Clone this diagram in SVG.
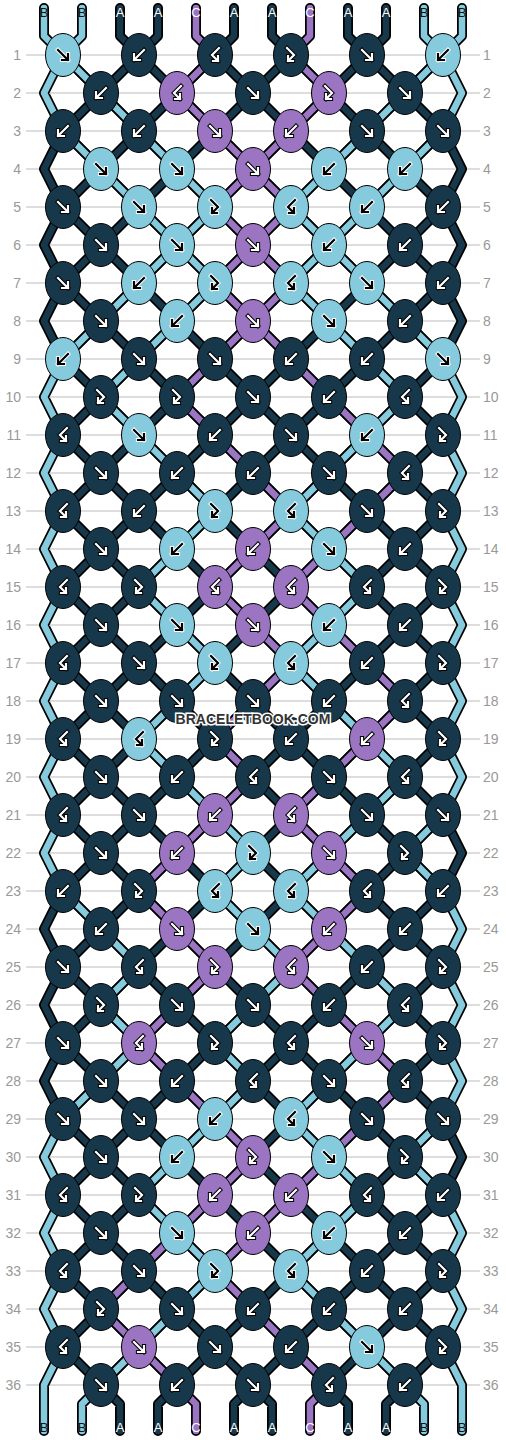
<svg xmlns="http://www.w3.org/2000/svg" xmlns:xlink="http://www.w3.org/1999/xlink" width="506" height="1440" viewBox="0 0 506 1440">
<style>
.o{fill:none;stroke:#000;stroke-width:10;stroke-linecap:round;stroke-linejoin:round}
.cA,.cB,.cC{fill:none;stroke-width:6.5;stroke-linecap:round;stroke-linejoin:round}
.cA{stroke:#17384a}.cB{stroke:#86cbdd}.cC{stroke:#9b74c2}
.nA{fill:#17384a}.nB{fill:#86cbdd}.nC{fill:#9b74c2}
.go,.gi,.ko,.ki{fill:none;stroke-linecap:square;stroke-linejoin:miter}
.go{stroke:#000;stroke-width:4.2}.gi{stroke:#fff;stroke-width:2.2}
.ko{stroke:#fff;stroke-width:4.2}.ki{stroke:#000;stroke-width:2.2}
.rl{fill:none;stroke:#bbb;stroke-width:1}
.rn{font-family:"Liberation Sans",Arial,sans-serif;font-size:14px;fill:#999}
.lb{font-family:"Liberation Sans",Arial,sans-serif;font-size:13px;text-anchor:middle}
.wm{font-family:"Liberation Sans",Arial,sans-serif;font-weight:bold;font-size:14px;fill:#333;stroke:#fff;stroke-width:3;paint-order:stroke;text-anchor:middle}
</style>
<defs>
<clipPath id="cl"><rect x="0" y="55" width="506" height="1330"/></clipPath>
<ellipse id="E" rx="17.5" ry="21.5" stroke="#000" stroke-width="1"/>
<path id="gf" d="M-5 -5L5 5M5 -1V5H-1"/>
<path id="gb" d="M5 -5L-5 5M-5 -1V5H1"/>
<path id="gfb" d="M-4 -7L3 0L-3 6M-3 1V6H2"/>
<path id="gbf" d="M4 -7L-3 0L3 6M3 1V6H-2"/>
<g id="fW"><use href="#gf" class="go"/><use href="#gf" class="gi"/></g>
<g id="bW"><use href="#gb" class="go"/><use href="#gb" class="gi"/></g>
<g id="fbW"><use href="#gfb" class="go"/><use href="#gfb" class="gi"/></g>
<g id="bfW"><use href="#gbf" class="go"/><use href="#gbf" class="gi"/></g>
<g id="fK"><use href="#gf" class="ko"/><use href="#gf" class="ki"/></g>
<g id="bK"><use href="#gb" class="ko"/><use href="#gb" class="ki"/></g>
<g id="fbK"><use href="#gfb" class="ko"/><use href="#gfb" class="ki"/></g>
<g id="bfK"><use href="#gbf" class="ko"/><use href="#gbf" class="ki"/></g>
<path id="lat" d="M63 -249l380 380M63 -173l380 380M63 -97l380 380M63 -21l380 380M63 55l380 380M63 131l380 380M63 207l380 380M63 283l380 380M63 359l380 380M63 435l380 380M63 511l380 380M63 587l380 380M63 663l380 380M63 739l380 380M63 815l380 380M63 891l380 380M63 967l380 380M63 1043l380 380M63 1119l380 380M63 1195l380 380M63 1271l380 380M63 1347l380 380M443 -249l-380 380M443 -173l-380 380M443 -97l-380 380M443 -21l-380 380M443 55l-380 380M443 131l-380 380M443 207l-380 380M443 283l-380 380M443 359l-380 380M443 435l-380 380M443 511l-380 380M443 587l-380 380M443 663l-380 380M443 739l-380 380M443 815l-380 380M443 891l-380 380M443 967l-380 380M443 1043l-380 380M443 1119l-380 380M443 1195l-380 380M443 1271l-380 380M443 1347l-380 380"/>
<path id="sa" d="M63 131L44 169L63 207L44 245L63 283L44 321L63 359M63 891L44 929L63 967L44 1005L63 1043L44 1081L63 1119M443 131L462 169L443 207L462 245L443 283L462 321L443 359M443 815L462 853L443 891M443 1119L462 1157L443 1195M120 8V36L139 55M158 8V36L139 55M234 8V36L215 55M272 8V36L291 55M348 8V36L367 55M386 8V36L367 55M101 1385L120 1404V1431M177 1385L158 1404V1431M253 1385L234 1404V1431M253 1385L272 1404V1431M329 1385L348 1404V1431M405 1385L386 1404V1431"/>
<path id="sb" d="M63 55L44 93L63 131M63 359L44 397L63 435L44 473L63 511L44 549L63 587L44 625L63 663L44 701L63 739L44 777L63 815L44 853L63 891M63 1119L44 1157L63 1195L44 1233L63 1271L44 1309L63 1347L44 1385V1431M443 55L462 93L443 131M443 359L462 397L443 435L462 473L443 511L462 549L443 587L462 625L443 663L462 701L443 739L462 777L443 815M443 891L462 929L443 967L462 1005L443 1043L462 1081L443 1119M443 1195L462 1233L443 1271L462 1309L443 1347L462 1385V1431M44 8V36L63 55M82 8V36L63 55M424 8V36L443 55M462 8V36L443 55M101 1385L82 1404V1431M405 1385L424 1404V1431
M63 55l38 38M443 55l-38 38M101 93l38 38M405 93l-38 38M63 131l38 38M139 131l38 38M367 131l-38 38M443 131l-38 38M101 169l38 38M177 169l38 38M329 169l-38 38M405 169l-38 38M139 207l38 38M215 207l-38 38M291 207l38 38M367 207l-38 38M177 245l-38 38M177 245l38 38M329 245l-38 38M329 245l38 38M139 283l-38 38M215 283l-38 38M291 283l38 38M367 283l38 38M101 321l-38 38M177 321l-38 38M329 321l38 38M405 321l38 38M139 359l-38 38M367 359l38 38M101 397l38 38M405 397l-38 38M139 435l38 38M367 435l-38 38M177 473l38 38M329 473l-38 38M215 511l-38 38M291 511l38 38M177 549l-38 38M329 549l38 38M139 587l38 38M367 587l-38 38M177 625l38 38M329 625l-38 38M215 663l-38 38M291 663l38 38M177 701l-38 38M329 701l38 38M139 739l38 38M367 739l38 38M177 777l38 38M405 777l-38 38M215 815l38 38M367 815l-38 38M443 815l-38 38M253 853l-38 38M329 853l-38 38M405 853l38 38M63 891l38 38M215 891l38 38M291 891l38 38M101 929l38 38M253 929l38 38M329 929l38 38M139 967l-38 38M291 967l-38 38M367 967l38 38M101 1005l38 38M253 1005l-38 38M405 1005l-38 38M139 1043l-38 38M215 1043l38 38M367 1043l-38 38M101 1081l-38 38M253 1081l-38 38M329 1081l-38 38M215 1119l-38 38M291 1119l38 38M443 1119l-38 38M177 1157l-38 38M329 1157l38 38M405 1157l38 38M139 1195l38 38M367 1195l-38 38M177 1233l38 38M329 1233l-38 38M215 1271l-38 38M291 1271l38 38M177 1309l-38 38M329 1309l38 38M139 1347l-38 38M367 1347l38 38"/>
<path id="sc" d="M196 8V36L215 55L177 93L215 131L253 169L215 207L253 245L215 283L253 321L215 359L177 397L215 435L253 473L291 511L253 549L215 587L253 625L291 663L253 701L215 739L253 777L215 815L177 853L139 891L177 929L215 967L177 1005L139 1043L177 1081L215 1119L253 1157L215 1195L177 1233L139 1271L101 1309L139 1347L177 1385L196 1404V1431M310 8V36L291 55L329 93L291 131L253 169L291 207L253 245L291 283L253 321L291 359L329 397L367 435L405 473L367 511L329 549L291 587L329 625L367 663L405 701L367 739L329 777L291 815L329 853L367 891L329 929L291 967L329 1005L367 1043L405 1081L367 1119L329 1157L291 1195L253 1233L215 1271L253 1309L291 1347L329 1385L310 1404V1431"/>
</defs>
<rect width="506" height="1440" fill="#fff"/>
<g id="rows">
<path class="rl" d="M26 55H480M26 93H480M26 131H480M26 169H480M26 207H480M26 245H480M26 283H480M26 321H480M26 359H480M26 397H480M26 435H480M26 473H480M26 511H480M26 549H480M26 587H480M26 625H480M26 663H480M26 701H480M26 739H480M26 777H480M26 815H480M26 853H480M26 891H480M26 929H480M26 967H480M26 1005H480M26 1043H480M26 1081H480M26 1119H480M26 1157H480M26 1195H480M26 1233H480M26 1271H480M26 1309H480M26 1347H480M26 1385H480"/>
<g class="rn" text-anchor="end">
<text x="21" y="60">1</text><text x="21" y="98">2</text><text x="21" y="136">3</text><text x="21" y="174">4</text><text x="21" y="212">5</text><text x="21" y="250">6</text><text x="21" y="288">7</text><text x="21" y="326">8</text><text x="21" y="364">9</text><text x="21" y="402">10</text><text x="21" y="440">11</text><text x="21" y="478">12</text><text x="21" y="516">13</text><text x="21" y="554">14</text><text x="21" y="592">15</text><text x="21" y="630">16</text><text x="21" y="668">17</text><text x="21" y="706">18</text><text x="21" y="744">19</text><text x="21" y="782">20</text><text x="21" y="820">21</text><text x="21" y="858">22</text><text x="21" y="896">23</text><text x="21" y="934">24</text><text x="21" y="972">25</text><text x="21" y="1010">26</text><text x="21" y="1048">27</text><text x="21" y="1086">28</text><text x="21" y="1124">29</text><text x="21" y="1162">30</text><text x="21" y="1200">31</text><text x="21" y="1238">32</text><text x="21" y="1276">33</text><text x="21" y="1314">34</text><text x="21" y="1352">35</text><text x="21" y="1390">36</text>
</g>
<g class="rn">
<text x="483" y="60">1</text><text x="483" y="98">2</text><text x="483" y="136">3</text><text x="483" y="174">4</text><text x="483" y="212">5</text><text x="483" y="250">6</text><text x="483" y="288">7</text><text x="483" y="326">8</text><text x="483" y="364">9</text><text x="483" y="402">10</text><text x="483" y="440">11</text><text x="483" y="478">12</text><text x="483" y="516">13</text><text x="483" y="554">14</text><text x="483" y="592">15</text><text x="483" y="630">16</text><text x="483" y="668">17</text><text x="483" y="706">18</text><text x="483" y="744">19</text><text x="483" y="782">20</text><text x="483" y="820">21</text><text x="483" y="858">22</text><text x="483" y="896">23</text><text x="483" y="934">24</text><text x="483" y="972">25</text><text x="483" y="1010">26</text><text x="483" y="1048">27</text><text x="483" y="1086">28</text><text x="483" y="1124">29</text><text x="483" y="1162">30</text><text x="483" y="1200">31</text><text x="483" y="1238">32</text><text x="483" y="1276">33</text><text x="483" y="1314">34</text><text x="483" y="1352">35</text><text x="483" y="1390">36</text>
</g>
</g>
<g id="connectors">
<use href="#lat" class="o" clip-path="url(#cl)"/>
<use href="#sa" class="o"/><use href="#sb" class="o"/><use href="#sc" class="o"/>
<use href="#lat" class="cA" clip-path="url(#cl)"/>
<use href="#sa" class="cA"/><use href="#sb" class="cB"/><use href="#sc" class="cC"/>
</g>
<g id="labels" class="lb">
<g fill="#111"><text x="44" y="17">B</text><text x="82" y="17">B</text><text x="424" y="17">B</text><text x="462" y="17">B</text><text x="44" y="1432">B</text><text x="82" y="1432">B</text><text x="424" y="1432">B</text><text x="462" y="1432">B</text></g>
<g fill="#fff"><text x="120" y="17">A</text><text x="158" y="17">A</text><text x="196" y="17">C</text><text x="234" y="17">A</text><text x="272" y="17">A</text><text x="310" y="17">C</text><text x="348" y="17">A</text><text x="386" y="17">A</text><text x="120" y="1432">A</text><text x="158" y="1432">A</text><text x="196" y="1432">C</text><text x="234" y="1432">A</text><text x="272" y="1432">A</text><text x="310" y="1432">C</text><text x="348" y="1432">A</text><text x="386" y="1432">A</text></g>
</g>
<g id="knots">
<g id="k1-1" class="nB" transform="translate(63 55)"><use href="#E"/><use href="#fK"/></g>
<g id="k1-2" class="nA" transform="translate(139 55)"><use href="#E"/><use href="#bW"/></g>
<g id="k1-3" class="nA" transform="translate(215 55)"><use href="#E"/><use href="#bfW"/></g>
<g id="k1-4" class="nA" transform="translate(291 55)"><use href="#E"/><use href="#fbW"/></g>
<g id="k1-5" class="nA" transform="translate(367 55)"><use href="#E"/><use href="#fW"/></g>
<g id="k1-6" class="nB" transform="translate(443 55)"><use href="#E"/><use href="#bK"/></g>
<g id="k2-1" class="nA" transform="translate(101 93)"><use href="#E"/><use href="#bW"/></g>
<g id="k2-2" class="nC" transform="translate(177 93)"><use href="#E"/><use href="#bfW"/></g>
<g id="k2-3" class="nA" transform="translate(253 93)"><use href="#E"/><use href="#fW"/></g>
<g id="k2-4" class="nC" transform="translate(329 93)"><use href="#E"/><use href="#fbW"/></g>
<g id="k2-5" class="nA" transform="translate(405 93)"><use href="#E"/><use href="#fW"/></g>
<g id="k3-1" class="nA" transform="translate(63 131)"><use href="#E"/><use href="#bW"/></g>
<g id="k3-2" class="nA" transform="translate(139 131)"><use href="#E"/><use href="#bW"/></g>
<g id="k3-3" class="nC" transform="translate(215 131)"><use href="#E"/><use href="#fW"/></g>
<g id="k3-4" class="nC" transform="translate(291 131)"><use href="#E"/><use href="#bW"/></g>
<g id="k3-5" class="nA" transform="translate(367 131)"><use href="#E"/><use href="#fW"/></g>
<g id="k3-6" class="nA" transform="translate(443 131)"><use href="#E"/><use href="#fW"/></g>
<g id="k4-1" class="nB" transform="translate(101 169)"><use href="#E"/><use href="#fK"/></g>
<g id="k4-2" class="nB" transform="translate(177 169)"><use href="#E"/><use href="#fK"/></g>
<g id="k4-3" class="nC" transform="translate(253 169)"><use href="#E"/><use href="#fW"/></g>
<g id="k4-4" class="nB" transform="translate(329 169)"><use href="#E"/><use href="#bK"/></g>
<g id="k4-5" class="nB" transform="translate(405 169)"><use href="#E"/><use href="#bK"/></g>
<g id="k5-1" class="nA" transform="translate(63 207)"><use href="#E"/><use href="#fW"/></g>
<g id="k5-2" class="nB" transform="translate(139 207)"><use href="#E"/><use href="#fK"/></g>
<g id="k5-3" class="nB" transform="translate(215 207)"><use href="#E"/><use href="#fbK"/></g>
<g id="k5-4" class="nB" transform="translate(291 207)"><use href="#E"/><use href="#bfK"/></g>
<g id="k5-5" class="nB" transform="translate(367 207)"><use href="#E"/><use href="#bK"/></g>
<g id="k5-6" class="nA" transform="translate(443 207)"><use href="#E"/><use href="#bW"/></g>
<g id="k6-1" class="nA" transform="translate(101 245)"><use href="#E"/><use href="#fW"/></g>
<g id="k6-2" class="nB" transform="translate(177 245)"><use href="#E"/><use href="#fK"/></g>
<g id="k6-3" class="nC" transform="translate(253 245)"><use href="#E"/><use href="#fW"/></g>
<g id="k6-4" class="nB" transform="translate(329 245)"><use href="#E"/><use href="#bK"/></g>
<g id="k6-5" class="nA" transform="translate(405 245)"><use href="#E"/><use href="#bW"/></g>
<g id="k7-1" class="nA" transform="translate(63 283)"><use href="#E"/><use href="#fW"/></g>
<g id="k7-2" class="nB" transform="translate(139 283)"><use href="#E"/><use href="#bK"/></g>
<g id="k7-3" class="nB" transform="translate(215 283)"><use href="#E"/><use href="#fbK"/></g>
<g id="k7-4" class="nB" transform="translate(291 283)"><use href="#E"/><use href="#bfK"/></g>
<g id="k7-5" class="nB" transform="translate(367 283)"><use href="#E"/><use href="#fK"/></g>
<g id="k7-6" class="nA" transform="translate(443 283)"><use href="#E"/><use href="#bW"/></g>
<g id="k8-1" class="nA" transform="translate(101 321)"><use href="#E"/><use href="#fW"/></g>
<g id="k8-2" class="nB" transform="translate(177 321)"><use href="#E"/><use href="#bK"/></g>
<g id="k8-3" class="nC" transform="translate(253 321)"><use href="#E"/><use href="#fW"/></g>
<g id="k8-4" class="nB" transform="translate(329 321)"><use href="#E"/><use href="#fK"/></g>
<g id="k8-5" class="nA" transform="translate(405 321)"><use href="#E"/><use href="#bW"/></g>
<g id="k9-1" class="nB" transform="translate(63 359)"><use href="#E"/><use href="#bK"/></g>
<g id="k9-2" class="nA" transform="translate(139 359)"><use href="#E"/><use href="#fW"/></g>
<g id="k9-3" class="nA" transform="translate(215 359)"><use href="#E"/><use href="#fW"/></g>
<g id="k9-4" class="nA" transform="translate(291 359)"><use href="#E"/><use href="#bW"/></g>
<g id="k9-5" class="nA" transform="translate(367 359)"><use href="#E"/><use href="#bW"/></g>
<g id="k9-6" class="nB" transform="translate(443 359)"><use href="#E"/><use href="#fK"/></g>
<g id="k10-1" class="nA" transform="translate(101 397)"><use href="#E"/><use href="#fbW"/></g>
<g id="k10-2" class="nA" transform="translate(177 397)"><use href="#E"/><use href="#fbW"/></g>
<g id="k10-3" class="nA" transform="translate(253 397)"><use href="#E"/><use href="#fW"/></g>
<g id="k10-4" class="nA" transform="translate(329 397)"><use href="#E"/><use href="#bW"/></g>
<g id="k10-5" class="nA" transform="translate(405 397)"><use href="#E"/><use href="#bfW"/></g>
<g id="k11-1" class="nA" transform="translate(63 435)"><use href="#E"/><use href="#bfW"/></g>
<g id="k11-2" class="nB" transform="translate(139 435)"><use href="#E"/><use href="#fK"/></g>
<g id="k11-3" class="nA" transform="translate(215 435)"><use href="#E"/><use href="#bW"/></g>
<g id="k11-4" class="nA" transform="translate(291 435)"><use href="#E"/><use href="#fW"/></g>
<g id="k11-5" class="nB" transform="translate(367 435)"><use href="#E"/><use href="#bK"/></g>
<g id="k11-6" class="nA" transform="translate(443 435)"><use href="#E"/><use href="#fbW"/></g>
<g id="k12-1" class="nA" transform="translate(101 473)"><use href="#E"/><use href="#fW"/></g>
<g id="k12-2" class="nA" transform="translate(177 473)"><use href="#E"/><use href="#bW"/></g>
<g id="k12-3" class="nA" transform="translate(253 473)"><use href="#E"/><use href="#bW"/></g>
<g id="k12-4" class="nA" transform="translate(329 473)"><use href="#E"/><use href="#fW"/></g>
<g id="k12-5" class="nA" transform="translate(405 473)"><use href="#E"/><use href="#bfW"/></g>
<g id="k13-1" class="nA" transform="translate(63 511)"><use href="#E"/><use href="#bfW"/></g>
<g id="k13-2" class="nA" transform="translate(139 511)"><use href="#E"/><use href="#bW"/></g>
<g id="k13-3" class="nB" transform="translate(215 511)"><use href="#E"/><use href="#fbK"/></g>
<g id="k13-4" class="nB" transform="translate(291 511)"><use href="#E"/><use href="#bfK"/></g>
<g id="k13-5" class="nA" transform="translate(367 511)"><use href="#E"/><use href="#fW"/></g>
<g id="k13-6" class="nA" transform="translate(443 511)"><use href="#E"/><use href="#fbW"/></g>
<g id="k14-1" class="nA" transform="translate(101 549)"><use href="#E"/><use href="#fW"/></g>
<g id="k14-2" class="nB" transform="translate(177 549)"><use href="#E"/><use href="#bK"/></g>
<g id="k14-3" class="nC" transform="translate(253 549)"><use href="#E"/><use href="#bW"/></g>
<g id="k14-4" class="nB" transform="translate(329 549)"><use href="#E"/><use href="#fK"/></g>
<g id="k14-5" class="nA" transform="translate(405 549)"><use href="#E"/><use href="#bW"/></g>
<g id="k15-1" class="nA" transform="translate(63 587)"><use href="#E"/><use href="#bfW"/></g>
<g id="k15-2" class="nA" transform="translate(139 587)"><use href="#E"/><use href="#fbW"/></g>
<g id="k15-3" class="nC" transform="translate(215 587)"><use href="#E"/><use href="#bfW"/></g>
<g id="k15-4" class="nC" transform="translate(291 587)"><use href="#E"/><use href="#bfW"/></g>
<g id="k15-5" class="nA" transform="translate(367 587)"><use href="#E"/><use href="#bfW"/></g>
<g id="k15-6" class="nA" transform="translate(443 587)"><use href="#E"/><use href="#fbW"/></g>
<g id="k16-1" class="nA" transform="translate(101 625)"><use href="#E"/><use href="#fW"/></g>
<g id="k16-2" class="nB" transform="translate(177 625)"><use href="#E"/><use href="#fK"/></g>
<g id="k16-3" class="nC" transform="translate(253 625)"><use href="#E"/><use href="#fW"/></g>
<g id="k16-4" class="nB" transform="translate(329 625)"><use href="#E"/><use href="#bK"/></g>
<g id="k16-5" class="nA" transform="translate(405 625)"><use href="#E"/><use href="#bW"/></g>
<g id="k17-1" class="nA" transform="translate(63 663)"><use href="#E"/><use href="#bfW"/></g>
<g id="k17-2" class="nA" transform="translate(139 663)"><use href="#E"/><use href="#fW"/></g>
<g id="k17-3" class="nB" transform="translate(215 663)"><use href="#E"/><use href="#fbK"/></g>
<g id="k17-4" class="nB" transform="translate(291 663)"><use href="#E"/><use href="#bfK"/></g>
<g id="k17-5" class="nA" transform="translate(367 663)"><use href="#E"/><use href="#bW"/></g>
<g id="k17-6" class="nA" transform="translate(443 663)"><use href="#E"/><use href="#fbW"/></g>
<g id="k18-1" class="nA" transform="translate(101 701)"><use href="#E"/><use href="#fW"/></g>
<g id="k18-2" class="nA" transform="translate(177 701)"><use href="#E"/><use href="#fW"/></g>
<g id="k18-3" class="nA" transform="translate(253 701)"><use href="#E"/><use href="#fW"/></g>
<g id="k18-4" class="nA" transform="translate(329 701)"><use href="#E"/><use href="#bW"/></g>
<g id="k18-5" class="nA" transform="translate(405 701)"><use href="#E"/><use href="#bfW"/></g>
<g id="k19-1" class="nA" transform="translate(63 739)"><use href="#E"/><use href="#bfW"/></g>
<g id="k19-2" class="nB" transform="translate(139 739)"><use href="#E"/><use href="#bfK"/></g>
<g id="k19-3" class="nA" transform="translate(215 739)"><use href="#E"/><use href="#fbW"/></g>
<g id="k19-4" class="nA" transform="translate(291 739)"><use href="#E"/><use href="#bW"/></g>
<g id="k19-5" class="nC" transform="translate(367 739)"><use href="#E"/><use href="#bW"/></g>
<g id="k19-6" class="nA" transform="translate(443 739)"><use href="#E"/><use href="#fbW"/></g>
<g id="k20-1" class="nA" transform="translate(101 777)"><use href="#E"/><use href="#fW"/></g>
<g id="k20-2" class="nA" transform="translate(177 777)"><use href="#E"/><use href="#bW"/></g>
<g id="k20-3" class="nA" transform="translate(253 777)"><use href="#E"/><use href="#bfW"/></g>
<g id="k20-4" class="nA" transform="translate(329 777)"><use href="#E"/><use href="#fW"/></g>
<g id="k20-5" class="nA" transform="translate(405 777)"><use href="#E"/><use href="#bfW"/></g>
<g id="k21-1" class="nA" transform="translate(63 815)"><use href="#E"/><use href="#bfW"/></g>
<g id="k21-2" class="nA" transform="translate(139 815)"><use href="#E"/><use href="#fW"/></g>
<g id="k21-3" class="nC" transform="translate(215 815)"><use href="#E"/><use href="#bW"/></g>
<g id="k21-4" class="nC" transform="translate(291 815)"><use href="#E"/><use href="#bfW"/></g>
<g id="k21-5" class="nA" transform="translate(367 815)"><use href="#E"/><use href="#fW"/></g>
<g id="k21-6" class="nA" transform="translate(443 815)"><use href="#E"/><use href="#fW"/></g>
<g id="k22-1" class="nA" transform="translate(101 853)"><use href="#E"/><use href="#fW"/></g>
<g id="k22-2" class="nC" transform="translate(177 853)"><use href="#E"/><use href="#bW"/></g>
<g id="k22-3" class="nB" transform="translate(253 853)"><use href="#E"/><use href="#fbK"/></g>
<g id="k22-4" class="nC" transform="translate(329 853)"><use href="#E"/><use href="#fW"/></g>
<g id="k22-5" class="nA" transform="translate(405 853)"><use href="#E"/><use href="#fbW"/></g>
<g id="k23-1" class="nA" transform="translate(63 891)"><use href="#E"/><use href="#bW"/></g>
<g id="k23-2" class="nA" transform="translate(139 891)"><use href="#E"/><use href="#fbW"/></g>
<g id="k23-3" class="nB" transform="translate(215 891)"><use href="#E"/><use href="#bfK"/></g>
<g id="k23-4" class="nB" transform="translate(291 891)"><use href="#E"/><use href="#bfK"/></g>
<g id="k23-5" class="nA" transform="translate(367 891)"><use href="#E"/><use href="#bfW"/></g>
<g id="k23-6" class="nA" transform="translate(443 891)"><use href="#E"/><use href="#bW"/></g>
<g id="k24-1" class="nA" transform="translate(101 929)"><use href="#E"/><use href="#bW"/></g>
<g id="k24-2" class="nC" transform="translate(177 929)"><use href="#E"/><use href="#fW"/></g>
<g id="k24-3" class="nB" transform="translate(253 929)"><use href="#E"/><use href="#fK"/></g>
<g id="k24-4" class="nC" transform="translate(329 929)"><use href="#E"/><use href="#bW"/></g>
<g id="k24-5" class="nA" transform="translate(405 929)"><use href="#E"/><use href="#bW"/></g>
<g id="k25-1" class="nA" transform="translate(63 967)"><use href="#E"/><use href="#fW"/></g>
<g id="k25-2" class="nA" transform="translate(139 967)"><use href="#E"/><use href="#bfW"/></g>
<g id="k25-3" class="nC" transform="translate(215 967)"><use href="#E"/><use href="#fbW"/></g>
<g id="k25-4" class="nC" transform="translate(291 967)"><use href="#E"/><use href="#bfW"/></g>
<g id="k25-5" class="nA" transform="translate(367 967)"><use href="#E"/><use href="#bW"/></g>
<g id="k25-6" class="nA" transform="translate(443 967)"><use href="#E"/><use href="#fbW"/></g>
<g id="k26-1" class="nA" transform="translate(101 1005)"><use href="#E"/><use href="#fbW"/></g>
<g id="k26-2" class="nA" transform="translate(177 1005)"><use href="#E"/><use href="#fW"/></g>
<g id="k26-3" class="nA" transform="translate(253 1005)"><use href="#E"/><use href="#fW"/></g>
<g id="k26-4" class="nA" transform="translate(329 1005)"><use href="#E"/><use href="#bW"/></g>
<g id="k26-5" class="nA" transform="translate(405 1005)"><use href="#E"/><use href="#bfW"/></g>
<g id="k27-1" class="nA" transform="translate(63 1043)"><use href="#E"/><use href="#fW"/></g>
<g id="k27-2" class="nC" transform="translate(139 1043)"><use href="#E"/><use href="#bfW"/></g>
<g id="k27-3" class="nA" transform="translate(215 1043)"><use href="#E"/><use href="#fbW"/></g>
<g id="k27-4" class="nA" transform="translate(291 1043)"><use href="#E"/><use href="#bfW"/></g>
<g id="k27-5" class="nC" transform="translate(367 1043)"><use href="#E"/><use href="#fW"/></g>
<g id="k27-6" class="nA" transform="translate(443 1043)"><use href="#E"/><use href="#fbW"/></g>
<g id="k28-1" class="nA" transform="translate(101 1081)"><use href="#E"/><use href="#fW"/></g>
<g id="k28-2" class="nA" transform="translate(177 1081)"><use href="#E"/><use href="#bW"/></g>
<g id="k28-3" class="nA" transform="translate(253 1081)"><use href="#E"/><use href="#bfW"/></g>
<g id="k28-4" class="nA" transform="translate(329 1081)"><use href="#E"/><use href="#fW"/></g>
<g id="k28-5" class="nA" transform="translate(405 1081)"><use href="#E"/><use href="#bfW"/></g>
<g id="k29-1" class="nA" transform="translate(63 1119)"><use href="#E"/><use href="#fW"/></g>
<g id="k29-2" class="nA" transform="translate(139 1119)"><use href="#E"/><use href="#fW"/></g>
<g id="k29-3" class="nB" transform="translate(215 1119)"><use href="#E"/><use href="#bK"/></g>
<g id="k29-4" class="nB" transform="translate(291 1119)"><use href="#E"/><use href="#bfK"/></g>
<g id="k29-5" class="nA" transform="translate(367 1119)"><use href="#E"/><use href="#fW"/></g>
<g id="k29-6" class="nA" transform="translate(443 1119)"><use href="#E"/><use href="#fW"/></g>
<g id="k30-1" class="nA" transform="translate(101 1157)"><use href="#E"/><use href="#fW"/></g>
<g id="k30-2" class="nB" transform="translate(177 1157)"><use href="#E"/><use href="#bK"/></g>
<g id="k30-3" class="nC" transform="translate(253 1157)"><use href="#E"/><use href="#fbW"/></g>
<g id="k30-4" class="nB" transform="translate(329 1157)"><use href="#E"/><use href="#fK"/></g>
<g id="k30-5" class="nA" transform="translate(405 1157)"><use href="#E"/><use href="#fbW"/></g>
<g id="k31-1" class="nA" transform="translate(63 1195)"><use href="#E"/><use href="#bfW"/></g>
<g id="k31-2" class="nA" transform="translate(139 1195)"><use href="#E"/><use href="#fbW"/></g>
<g id="k31-3" class="nC" transform="translate(215 1195)"><use href="#E"/><use href="#bW"/></g>
<g id="k31-4" class="nC" transform="translate(291 1195)"><use href="#E"/><use href="#bW"/></g>
<g id="k31-5" class="nA" transform="translate(367 1195)"><use href="#E"/><use href="#bfW"/></g>
<g id="k31-6" class="nA" transform="translate(443 1195)"><use href="#E"/><use href="#bW"/></g>
<g id="k32-1" class="nA" transform="translate(101 1233)"><use href="#E"/><use href="#fW"/></g>
<g id="k32-2" class="nB" transform="translate(177 1233)"><use href="#E"/><use href="#fK"/></g>
<g id="k32-3" class="nC" transform="translate(253 1233)"><use href="#E"/><use href="#bW"/></g>
<g id="k32-4" class="nB" transform="translate(329 1233)"><use href="#E"/><use href="#bK"/></g>
<g id="k32-5" class="nA" transform="translate(405 1233)"><use href="#E"/><use href="#bW"/></g>
<g id="k33-1" class="nA" transform="translate(63 1271)"><use href="#E"/><use href="#bfW"/></g>
<g id="k33-2" class="nA" transform="translate(139 1271)"><use href="#E"/><use href="#fW"/></g>
<g id="k33-3" class="nB" transform="translate(215 1271)"><use href="#E"/><use href="#fbK"/></g>
<g id="k33-4" class="nB" transform="translate(291 1271)"><use href="#E"/><use href="#bfK"/></g>
<g id="k33-5" class="nA" transform="translate(367 1271)"><use href="#E"/><use href="#bW"/></g>
<g id="k33-6" class="nA" transform="translate(443 1271)"><use href="#E"/><use href="#fbW"/></g>
<g id="k34-1" class="nA" transform="translate(101 1309)"><use href="#E"/><use href="#fbW"/></g>
<g id="k34-2" class="nA" transform="translate(177 1309)"><use href="#E"/><use href="#fW"/></g>
<g id="k34-3" class="nA" transform="translate(253 1309)"><use href="#E"/><use href="#bW"/></g>
<g id="k34-4" class="nA" transform="translate(329 1309)"><use href="#E"/><use href="#bW"/></g>
<g id="k34-5" class="nA" transform="translate(405 1309)"><use href="#E"/><use href="#bW"/></g>
<g id="k35-1" class="nA" transform="translate(63 1347)"><use href="#E"/><use href="#bfW"/></g>
<g id="k35-2" class="nC" transform="translate(139 1347)"><use href="#E"/><use href="#fW"/></g>
<g id="k35-3" class="nA" transform="translate(215 1347)"><use href="#E"/><use href="#fW"/></g>
<g id="k35-4" class="nA" transform="translate(291 1347)"><use href="#E"/><use href="#bW"/></g>
<g id="k35-5" class="nB" transform="translate(367 1347)"><use href="#E"/><use href="#fK"/></g>
<g id="k35-6" class="nA" transform="translate(443 1347)"><use href="#E"/><use href="#fbW"/></g>
<g id="k36-1" class="nA" transform="translate(101 1385)"><use href="#E"/><use href="#fW"/></g>
<g id="k36-2" class="nA" transform="translate(177 1385)"><use href="#E"/><use href="#bW"/></g>
<g id="k36-3" class="nA" transform="translate(253 1385)"><use href="#E"/><use href="#fW"/></g>
<g id="k36-4" class="nA" transform="translate(329 1385)"><use href="#E"/><use href="#bfW"/></g>
<g id="k36-5" class="nA" transform="translate(405 1385)"><use href="#E"/><use href="#bW"/></g>
</g>
<text id="watermark" class="wm" x="253" y="724">BRACELETBOOK.COM</text>
</svg>
